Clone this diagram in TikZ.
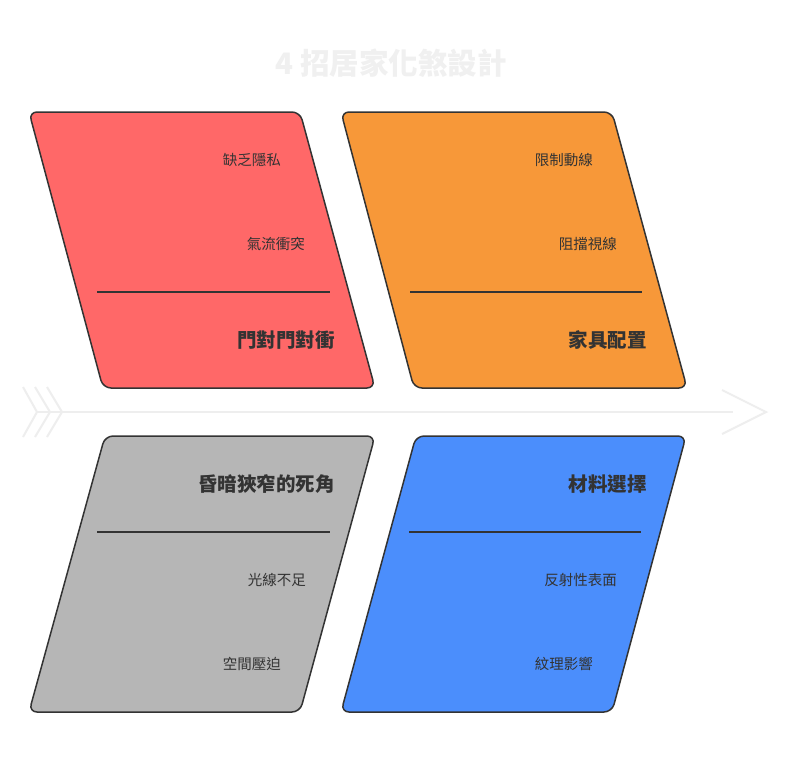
\documentclass[tikz,border=0pt]{standalone}
\usepackage{fontspec}
\newfontfamily\cjk{Noto Sans CJK TC}
\definecolor{redf}{HTML}{FF6868}
\definecolor{orangef}{HTML}{F79839}
\definecolor{grayf}{HTML}{B6B6B6}
\definecolor{bluef}{HTML}{4B8EFC}
\definecolor{edge}{HTML}{333333}
\definecolor{txt}{HTML}{333333}
\definecolor{spinec}{HTML}{EEEEEE}
\definecolor{titlec}{HTML}{F0F0F0}
\tikzset{
  panel/.style={draw=edge, line width=1.5pt, rounded corners=8pt, line join=round},
  divider/.style={draw=edge, line width=1.5pt},
  cause/.style={anchor=east, inner sep=0pt, text=txt, font=\cjk\fontsize{14.5}{16}\selectfont},
  head/.style={anchor=east, inner sep=0pt, text=txt, font=\cjk\bfseries\fontsize{19.5}{22}\selectfont},
  spine/.style={draw=spinec, line width=2pt},
}
\begin{document}
\begin{tikzpicture}[x=1pt,y=1pt]
\useasboundingbox (0,0) rectangle (790,-761);
\fill[white] (0,0) rectangle (790,-761);
% title
\node[inner sep=0pt, text=titlec, font=\cjk\bfseries\fontsize{29.5}{32}\selectfont] (title) at (391,-63) {4 招居家化煞設計};
% spine
\coordinate (s0) at (37,-412);
\coordinate (s1) at (733,-412);
\draw[spine] (s0) -- (s1);
\draw[spine] (722,-390) -- (766,-412) -- (722,-434);
\draw[spine] (23,-387) -- (37,-412) -- (23,-437);
\draw[spine] (35,-387) -- (50,-412) -- (35,-437);
\draw[spine] (47,-387) -- (62,-412) -- (47,-437);
% panels
\path[panel, fill=redf] (29,-112) -- (300,-112) -- (375,-388) -- (103,-388) -- cycle;
\path[panel, fill=orangef] (341,-112) -- (612,-112) -- (687,-388) -- (414,-388) -- cycle;
\path[panel, fill=grayf] (105,-436) -- (375,-436) -- (300,-712) -- (29,-712) -- cycle;
\path[panel, fill=bluef] (416,-436) -- (686,-436) -- (612,-712) -- (341,-712) -- cycle;
% dividers
\draw[divider] (97,-292) -- (330,-292);
\draw[divider] (410,-292) -- (642,-292);
\draw[divider] (97,-532) -- (330,-532);
\draw[divider] (409,-532) -- (641,-532);
% red
\node[cause] (r1) at (281,-160) {缺乏隱私};
\node[cause] (r2) at (305,-244) {氣流衝突};
\node[head] (rh) at (335,-340) {門對門對衝};
% orange
\node[cause] (o1) at (593,-160) {限制動線};
\node[cause] (o2) at (617,-244) {阻擋視線};
\node[head] (oh) at (647,-340) {家具配置};
% gray
\node[head] (gh) at (335,-484) {昏暗狹窄的死角};
\node[cause] (g1) at (306,-580) {光線不足};
\node[cause] (g2) at (281,-664) {空間壓迫};
% blue
\node[head] (bh) at (647,-484) {材料選擇};
\node[cause] (b1) at (617,-580) {反射性表面};
\node[cause] (b2) at (593,-664) {紋理影響};
\end{tikzpicture}
\end{document}
